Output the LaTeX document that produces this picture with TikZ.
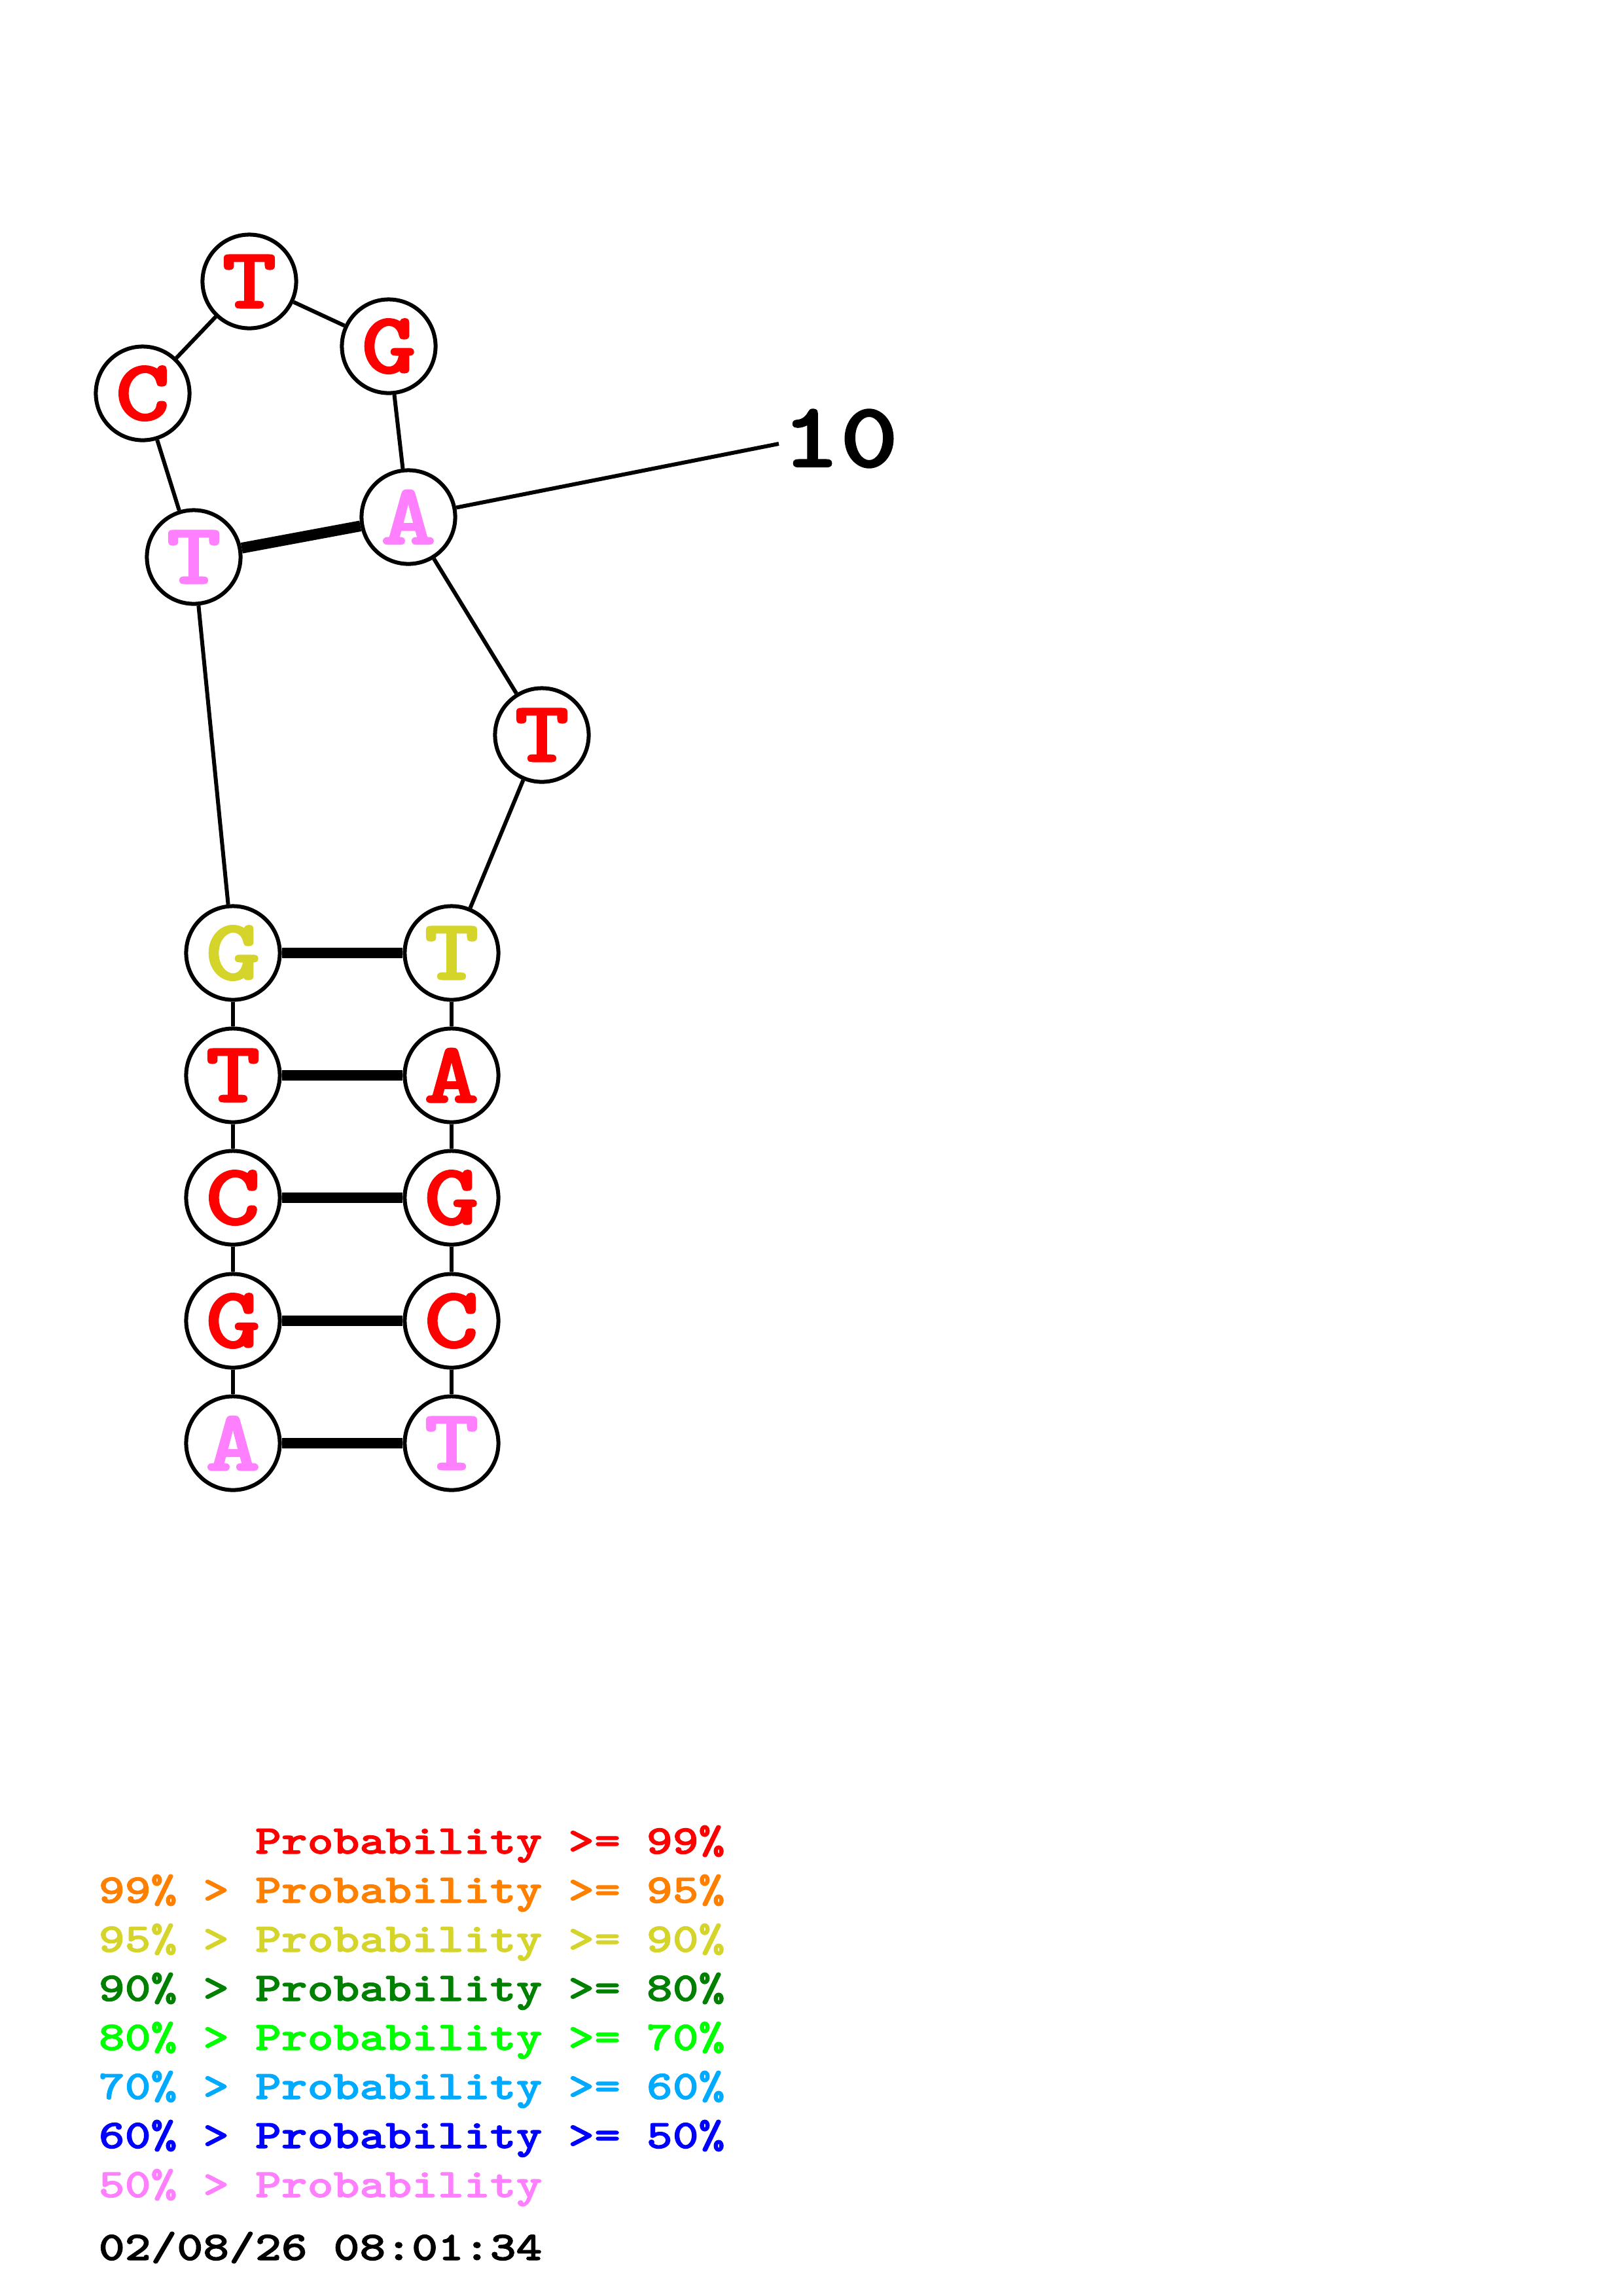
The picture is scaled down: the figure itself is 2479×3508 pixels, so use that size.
\documentclass[tikz,border=0pt]{standalone}
\usepackage{graphicx}
\usepackage{fontspec}
\newfontfamily\heavytt{lmmonolt10-bold.otf}[FakeBold=1.5]
\definecolor{pr}{RGB}{255,0,0}
\definecolor{po}{RGB}{255,128,0}
\definecolor{py}{RGB}{212,212,42}
\definecolor{pdg}{RGB}{0,128,0}
\definecolor{pg}{RGB}{0,255,0}
\definecolor{pc}{RGB}{0,170,255}
\definecolor{pb}{RGB}{0,0,255}
\definecolor{pp}{RGB}{255,128,255}
\newcommand\nodefont{\fontsize{32}{32}\selectfont\heavytt}
\newcommand\labfont{\fontsize{34}{34}\selectfont\heavytt}
\newcommand\legfont{\fontsize{15}{15}\selectfont\heavytt}
\newcommand\nstretch[1]{\scalebox{1.2}[1]{#1}}
\newcommand\lstretch[1]{\scalebox{1.22}[1]{#1}}
\tikzset{
  nt/.style={circle, draw=black, line width=1.45pt, fill=white, minimum size=34.5pt, inner sep=0pt, font=\nodefont},
  bond/.style={line width=1.45pt},
  pairbond/.style={line width=4pt},
  leg/.style={anchor=base west, inner sep=0pt, font=\legfont},
}
\begin{document}
\begin{tikzpicture}[x=0.0847115mm, y=-0.0847115mm]
\fill[white] (0,0) rectangle (2479,3508);
\useasboundingbox (0,0) rectangle (2479,3508);
% nodes
\node[nt, text=pr] (t1) at (381,430) {\nstretch{T}};
\node[nt, text=pr] (g1) at (594,529) {\nstretch{G}};
\node[nt, text=pr] (c1) at (218,601) {\nstretch{C}};
\node[nt, text=pp] (a1) at (624,790) {\nstretch{A}};
\node[nt, text=pp] (t2) at (296,851) {\nstretch{T}};
\node[nt, text=pr] (t3) at (828,1123) {\nstretch{T}};
\node[nt, text=py] (l1) at (356,1456) {\nstretch{G}};
\node[nt, text=pr] (l2) at (356,1643) {\nstretch{T}};
\node[nt, text=pr] (l3) at (356,1830) {\nstretch{C}};
\node[nt, text=pr] (l4) at (356,2018) {\nstretch{G}};
\node[nt, text=pp] (l5) at (356,2205) {\nstretch{A}};
\node[nt, text=py] (r1) at (690,1456) {\nstretch{T}};
\node[nt, text=pr] (r2) at (690,1643) {\nstretch{A}};
\node[nt, text=pr] (r3) at (690,1830) {\nstretch{G}};
\node[nt, text=pr] (r4) at (690,2018) {\nstretch{C}};
\node[nt, text=pp] (r5) at (690,2205) {\nstretch{T}};
\node[anchor=west, inner sep=0pt, font=\labfont] (lab) at (1194,670) {\nstretch{10}};
\coordinate (e10) at (1190,678);
% backbone
\draw[bond] (c1) -- (t1);
\draw[bond] (t1) -- (g1);
\draw[bond] (g1) -- (a1);
\draw[bond] (c1) -- (t2);
\draw[bond] (a1) -- (t3);
\draw[bond] (t3) -- (r1);
\draw[bond] (t2) -- (l1);
\draw[bond] (a1) -- (e10);
\draw[bond] (l1) -- (l2);
\draw[bond] (l2) -- (l3);
\draw[bond] (l3) -- (l4);
\draw[bond] (l4) -- (l5);
\draw[bond] (r1) -- (r2);
\draw[bond] (r2) -- (r3);
\draw[bond] (r3) -- (r4);
\draw[bond] (r4) -- (r5);
% pairs
\draw[pairbond] (t2) -- (a1);
\draw[pairbond] (l1) -- (r1);
\draw[pairbond] (l2) -- (r2);
\draw[pairbond] (l3) -- (r3);
\draw[pairbond] (l4) -- (r4);
\draw[pairbond] (l5) -- (r5);
% legend
\node[leg, text=pr] (k1) at (150,2832) {\lstretch{\hphantom{99\% > }Probability >= 99\%}};
\node[leg, text=po] (k2) at (150,2907) {\lstretch{99\% > Probability >= 95\%}};
\node[leg, text=py] (k3) at (150,2982) {\lstretch{95\% > Probability >= 90\%}};
\node[leg, text=pdg] (k4) at (150,3057) {\lstretch{90\% > Probability >= 80\%}};
\node[leg, text=pg] (k5) at (150,3132) {\lstretch{80\% > Probability >= 70\%}};
\node[leg, text=pc] (k6) at (150,3207) {\lstretch{70\% > Probability >= 60\%}};
\node[leg, text=pb] (k7) at (150,3282) {\lstretch{60\% > Probability >= 50\%}};
\node[leg, text=pp] (k8) at (150,3357) {\lstretch{50\% > Probability}};
\node[leg, text=black] (dt) at (150,3453) {\lstretch{02/08/26 08:01:34}};
\end{tikzpicture}
\end{document}
